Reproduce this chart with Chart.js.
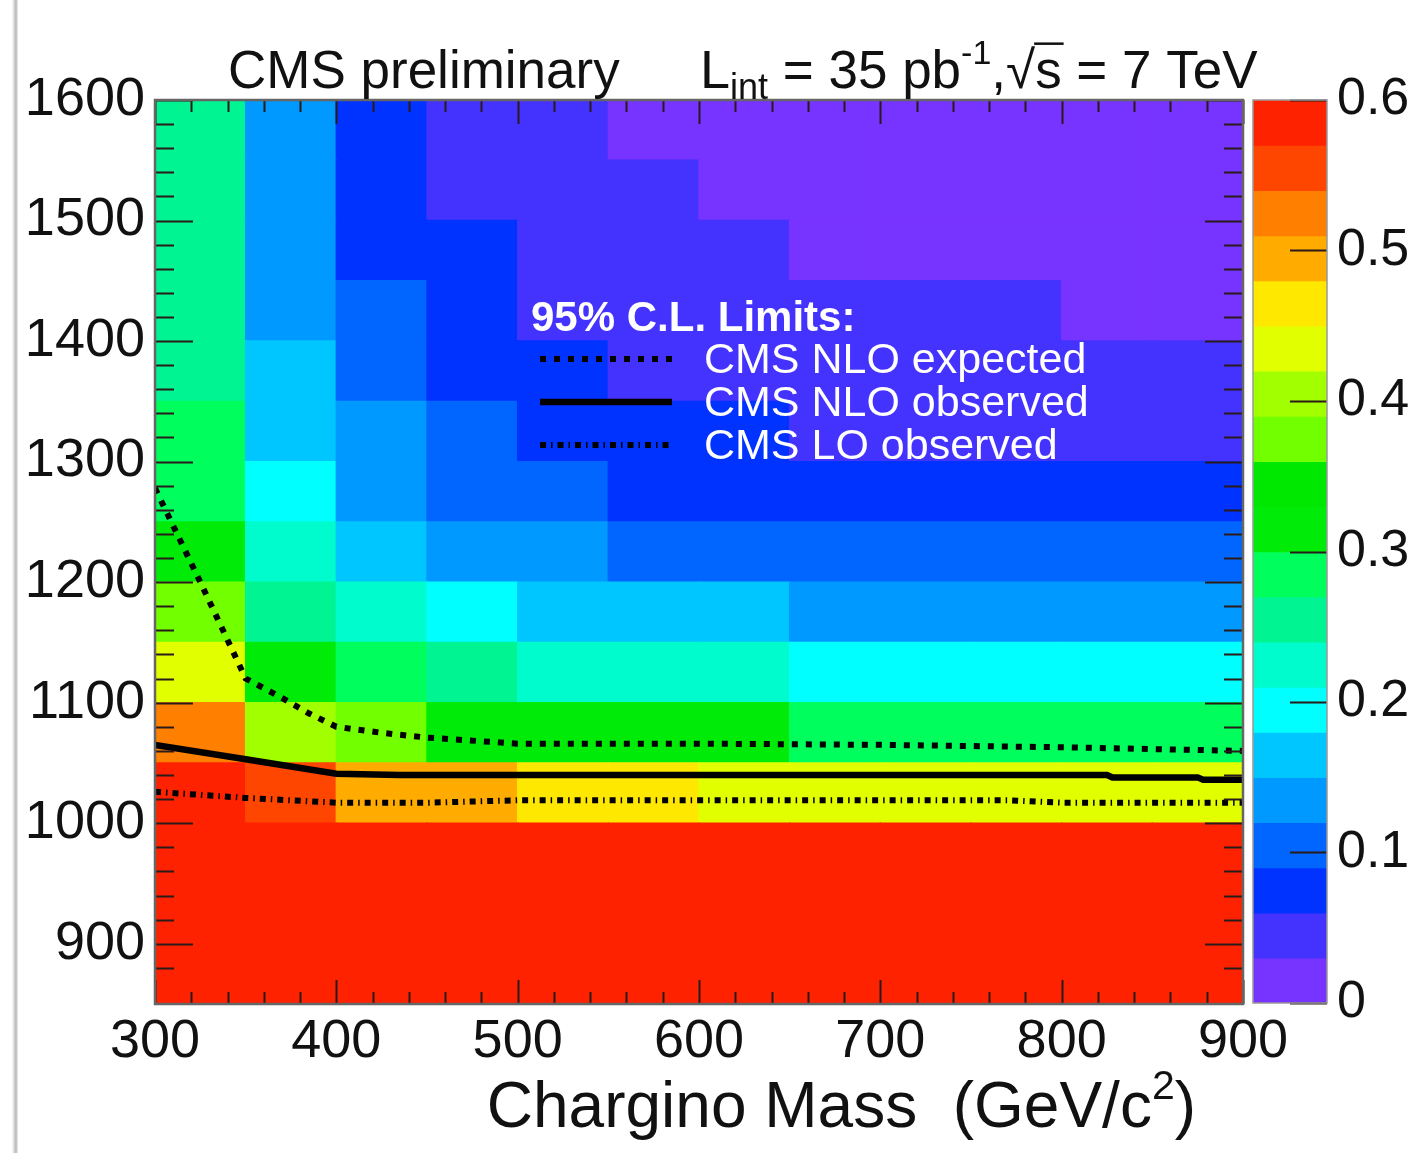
<!DOCTYPE html>
<html>
<head>
<meta charset="utf-8">
<title>Chargino mass efficiency map</title>
<script src="https://cdn.jsdelivr.net/npm/chart.js@4.4.1/dist/chart.umd.min.js"></script>
<style>
  html, body { margin: 0; padding: 0; background: #fff; }
  #wrap { position: relative; width: 1410px; height: 1153px; overflow: hidden; }
  #main { position: absolute; left: 0; top: 0; }
  #zbar { position: absolute; left: 1240px; top: 0; }
  /* faint scan edge on the left like the original */
  #edge { position: absolute; left: 0; top: 0; width: 18px; height: 1153px;
          background: linear-gradient(to right, #fff 0, #fff 12px, #d6d6d6 14px, #b8b8b8 16px, #f0f0f0 18px); }
</style>
</head>
<body>
<div id="wrap">
  <canvas id="main" width="1410" height="1153"></canvas>
  <canvas id="zbar" width="170" height="1153"></canvas>
  <div id="edge"></div>
</div>
<script>
// ---- data ----
const FONT = '"Liberation Sans", Arial, Helvetica, sans-serif';

// chargino mass bins (lower edges, GeV/c^2), 50 wide
const massBins = [300, 350, 400, 450, 500, 550, 600, 650, 700, 750, 800, 850];
const massBinWidth = 50;
// second axis bins (lower edges), 50 wide
const yBins = [850, 900, 950, 1000, 1050, 1100, 1150, 1200, 1250, 1300, 1350, 1400, 1450, 1500, 1550];
const yBinHeight = 50;

// efficiency per row (one value per mass bin)
const eff850  = [0.59, 0.59, 0.59, 0.59, 0.59, 0.59, 0.59, 0.59, 0.59, 0.59, 0.59, 0.59];
const eff900  = [0.59, 0.59, 0.59, 0.59, 0.59, 0.59, 0.59, 0.59, 0.59, 0.59, 0.59, 0.59];
const eff950  = [0.59, 0.59, 0.59, 0.59, 0.59, 0.59, 0.59, 0.59, 0.59, 0.59, 0.59, 0.59];
const eff1000 = [0.59, 0.56, 0.50, 0.50, 0.47, 0.47, 0.44, 0.44, 0.44, 0.44, 0.44, 0.44];
const eff1050 = [0.53, 0.41, 0.38, 0.32, 0.32, 0.32, 0.32, 0.29, 0.29, 0.29, 0.29, 0.29];
const eff1100 = [0.44, 0.32, 0.29, 0.26, 0.23, 0.23, 0.23, 0.20, 0.20, 0.20, 0.20, 0.20];
const eff1150 = [0.38, 0.26, 0.23, 0.20, 0.17, 0.17, 0.17, 0.14, 0.14, 0.14, 0.14, 0.14];
const eff1200 = [0.32, 0.23, 0.17, 0.14, 0.14, 0.11, 0.11, 0.11, 0.11, 0.11, 0.11, 0.11];
const eff1250 = [0.29, 0.20, 0.14, 0.11, 0.11, 0.08, 0.08, 0.08, 0.08, 0.08, 0.08, 0.08];
const eff1300 = [0.29, 0.17, 0.14, 0.11, 0.08, 0.08, 0.08, 0.05, 0.05, 0.05, 0.05, 0.05];
const eff1350 = [0.26, 0.17, 0.11, 0.08, 0.08, 0.05, 0.05, 0.05, 0.05, 0.05, 0.05, 0.05];
const eff1400 = [0.26, 0.14, 0.11, 0.08, 0.05, 0.05, 0.05, 0.05, 0.05, 0.05, 0.02, 0.02];
const eff1450 = [0.26, 0.14, 0.08, 0.08, 0.05, 0.05, 0.05, 0.02, 0.02, 0.02, 0.02, 0.02];
const eff1500 = [0.26, 0.14, 0.08, 0.05, 0.05, 0.05, 0.02, 0.02, 0.02, 0.02, 0.02, 0.02];
const eff1550 = [0.26, 0.14, 0.08, 0.05, 0.05, 0.02, 0.02, 0.02, 0.02, 0.02, 0.02, 0.02];
const effRows = [eff850, eff900, eff950, eff1000, eff1050, eff1100, eff1150, eff1200,
                 eff1250, eff1300, eff1350, eff1400, eff1450, eff1500, eff1550];

// 95% CL limit curves
const nloExpMass = [300, 325, 350, 370, 385, 400, 425, 450, 500, 600, 700, 800, 900];
const nloExpVal  = [1278, 1200, 1120, 1104, 1091, 1080, 1075, 1071, 1066, 1066, 1065, 1063, 1060];
const nloObsMass = [300, 350, 400, 435, 825, 828, 875, 878, 900];
const nloObsVal  = [1065, 1053, 1041, 1040, 1040, 1038, 1038, 1036, 1036];
const loObsMass  = [300, 350, 400, 450, 500, 770, 800, 900];
const loObsVal   = [1026, 1021, 1017, 1017, 1019, 1019, 1017, 1017];

// colour scale 0 .. 0.6 in 20 contours
const zMin = 0;
const zMax = 0.6;
const zTicks = [0, 0.1, 0.2, 0.3, 0.4, 0.5, 0.6];
const zPalette = [
  '#7733ff', '#4433ff', '#0033ff', '#0066ff', '#0099ff',
  '#00c6ff', '#00ffff', '#00fccc', '#00f492', '#00ff5c',
  '#00ec08', '#00e800', '#72ff00', '#a2ff00', '#e2ff00',
  '#ffe800', '#ffab00', '#ff8000', '#ff4600', '#ff2200'
];
const zStep = (zMax - zMin) / zPalette.length;

function zColor(z) {
  const i = Math.floor((z - zMin) / zStep);
  return zPalette[Math.max(0, Math.min(zPalette.length - 1, i))];
}

function toPoints(xs, ys) {
  return xs.map((x, i) => ({ x: x, y: ys[i] }));
}

// ---- line styles for the three limits ----
const limitCurves = [
  { label: 'CMS NLO expected', mass: nloExpMass, val: nloExpVal, width: 6, dash: [6, 8] },
  { label: 'CMS NLO observed', mass: nloObsMass, val: nloObsVal, width: 6.5, dash: [] },
  { label: 'CMS LO observed',  mass: loObsMass,  val: loObsVal,  width: 6, dash: [6, 5, 1.5, 5] }
];

// ---- datasets ----
const cellSets = yBins.map((lo, r) => ({
  type: 'bar',
  xAxisID: 'xc',
  yAxisID: 'y',
  data: effRows[r].map(() => [lo, lo + yBinHeight]),
  backgroundColor: effRows[r].map(zColor),
  borderWidth: 0,
  inflateAmount: 0.7,
  barPercentage: 1,
  categoryPercentage: 1,
  grouped: false,
  order: 5
}));

const lineSets = limitCurves.map(c => ({
  type: 'line',
  label: c.label,
  xAxisID: 'x',
  yAxisID: 'y',
  data: toPoints(c.mass, c.val),
  borderColor: '#000',
  borderWidth: c.width,
  borderDash: c.dash,
  borderCapStyle: 'butt',
  pointRadius: 0,
  tension: 0,
  fill: false,
  order: 0
}));

// ---- helpers for text with sub/superscripts ----
function richWidth(ctx, parts) {
  let w = 0;
  parts.forEach(p => { ctx.font = (p.bold ? 'bold ' : '') + p.size + 'px ' + FONT; w += ctx.measureText(p.text).width; });
  return w;
}
function drawRich(ctx, parts, x, y) {
  parts.forEach(p => {
    ctx.font = (p.bold ? 'bold ' : '') + p.size + 'px ' + FONT;
    const w = ctx.measureText(p.text).width;
    ctx.fillText(p.text, x, y + (p.dy || 0));
    if (p.over) {
      ctx.fillRect(x - 1, y - p.size * 0.86, w + 3, 2.5);
    }
    x += w;
  });
  return x;
}

// frame + inward ticks, ROOT style
const frameTicks = {
  id: 'frameTicks',
  afterDatasetsDraw(chart) {
    const { ctx, chartArea: a, scales } = chart;
    ctx.save();
    ctx.strokeStyle = '#2a1a1a';
    ctx.lineWidth = 2;
    ctx.beginPath();
    scales.x.ticks.forEach(t => {
      if (t.value % 20 !== 0) return;
      const px = Math.round(scales.x.getPixelForValue(t.value)) + 0.5;
      const len = t.value % 100 === 0 ? 24 : 12;
      ctx.moveTo(px, a.bottom); ctx.lineTo(px, a.bottom - len);
      ctx.moveTo(px, a.top); ctx.lineTo(px, a.top + len);
    });
    scales.y.ticks.forEach(t => {
      if (t.value % 20 !== 0) return;
      const py = Math.round(scales.y.getPixelForValue(t.value)) + 0.5;
      const len = t.value % 100 === 0 ? 38 : 19;
      ctx.moveTo(a.left, py); ctx.lineTo(a.left + len, py);
      ctx.moveTo(a.right, py); ctx.lineTo(a.right - len, py);
    });
    ctx.stroke();
    ctx.strokeStyle = '#666';
    ctx.lineWidth = 2.5;
    ctx.strokeRect(a.left, a.top, a.right - a.left, a.bottom - a.top);
    ctx.restore();
  }
};

// header, axis title and legend
const annotations = {
  id: 'annotations',
  afterDraw(chart) {
    const { ctx } = chart;
    ctx.save();
    ctx.textBaseline = 'alphabetic';
    ctx.textAlign = 'left';

    // header
    ctx.fillStyle = '#111';
    drawRich(ctx, [{ text: 'CMS preliminary', size: 53 }], 228, 88);
    drawRich(ctx, [
      { text: 'L', size: 54 },
      { text: 'int', size: 36, dy: 11 },
      { text: ' = 35 pb', size: 53 },
      { text: '-1', size: 34, dy: -24 },
      { text: ',', size: 53 },
      { text: '\u221A', size: 53 },
      { text: 's', size: 53, over: true },
      { text: ' = 7 TeV', size: 53 }
    ], 700, 88);

    // x axis title, right aligned like ROOT
    const xTitle = [
      { text: 'Chargino Mass  (GeV/c', size: 64 },
      { text: '2', size: 41, dy: -28 },
      { text: ')', size: 64 }
    ];
    drawRich(ctx, xTitle, 1196 - richWidth(ctx, xTitle), 1127);

    // legend
    ctx.fillStyle = '#fff';
    drawRich(ctx, [{ text: '95% C.L. Limits:', size: 42, bold: true }], 531, 331);
    limitCurves.forEach((c, i) => {
      const y = 359 + i * 43;
      ctx.strokeStyle = '#000';
      ctx.lineWidth = c.width;
      ctx.lineCap = 'butt';
      ctx.setLineDash(c.dash);
      ctx.beginPath();
      ctx.moveTo(540, y);
      ctx.lineTo(672, y);
      ctx.stroke();
      ctx.setLineDash([]);
      ctx.fillStyle = '#fff';
      drawRich(ctx, [{ text: c.label, size: 43 }], 704, y + 14);
    });
    ctx.restore();
  }
};

const tickFont = { size: 54, family: FONT };

const mainChart = new Chart(document.getElementById('main'), {
  type: 'bar',
  data: {
    labels: massBins.map(String),
    datasets: [...lineSets, ...cellSets]
  },
  options: {
    responsive: false,
    animation: false,
    layout: { padding: { top: 100, right: 167, bottom: 0, left: 0 } },
    plugins: {
      legend: { display: false },
      tooltip: { enabled: false }
    },
    scales: {
      xc: {
        type: 'category',
        display: false,
        offset: true
      },
      x: {
        type: 'linear',
        position: 'bottom',
        min: massBins[0],
        max: massBins[massBins.length - 1] + massBinWidth,
        offset: false,
        grid: { display: false, drawTicks: false },
        border: { display: false },
        ticks: {
          stepSize: 20,
          autoSkip: false,
          maxRotation: 0,
          padding: 6,
          color: '#111',
          font: tickFont,
          callback: v => (v % 100 === 0 ? String(v) : '')
        },
        afterFit: s => { s.height = 149; }
      },
      y: {
        type: 'linear',
        min: yBins[0],
        max: yBins[yBins.length - 1] + yBinHeight,
        beginAtZero: false,
        grid: { display: false, drawTicks: false },
        border: { display: false },
        ticks: {
          stepSize: 20,
          autoSkip: false,
          padding: 10,
          color: '#111',
          font: tickFont,
          callback: v => (v % 100 === 0 ? String(v) : '')
        },
        afterFit: s => { s.width = 155; }
      }
    }
  },
  plugins: [frameTicks, annotations]
});

// ---- colour bar ----
const zBands = zPalette.map((c, i) => ({ x: 'z', y: [zMin + i * zStep, zMin + (i + 1) * zStep] }));

const zFrame = {
  id: 'zFrame',
  afterDatasetsDraw(chart) {
    const { ctx, chartArea: a, scales } = chart;
    ctx.save();
    ctx.strokeStyle = '#2a1a1a';
    ctx.lineWidth = 2;
    ctx.beginPath();
    zTicks.forEach(v => {
      const py = Math.round(scales.y.getPixelForValue(v)) + 0.5;
      ctx.moveTo(a.right, py);
      ctx.lineTo(a.right - 37, py);
    });
    ctx.stroke();
    ctx.strokeStyle = '#999';
    ctx.lineWidth = 1.5;
    ctx.strokeRect(a.left, a.top, a.right - a.left, a.bottom - a.top);
    ctx.restore();
  }
};

const zChart = new Chart(document.getElementById('zbar'), {
  type: 'bar',
  data: {
    labels: ['z'],
    datasets: [{
      data: zBands,
      backgroundColor: zPalette,
      borderWidth: 0,
      inflateAmount: 0.7,
      barPercentage: 1,
      categoryPercentage: 1,
      grouped: false
    }]
  },
  options: {
    responsive: false,
    animation: false,
    layout: { padding: { top: 100, right: 0, bottom: 150, left: 13 } },
    plugins: {
      legend: { display: false },
      tooltip: { enabled: false }
    },
    scales: {
      x: { display: false },
      y: {
        position: 'right',
        min: zMin,
        max: zMax,
        grid: { display: false, drawTicks: false },
        border: { display: false },
        ticks: {
          stepSize: 0.1,
          padding: 10,
          color: '#111',
          font: { size: 52, family: FONT },
          callback: v => String(Math.round(v * 10) / 10)
        },
        afterFit: s => { s.width = 83; }
      }
    }
  },
  plugins: [zFrame]
});
</script>
</body>
</html>
